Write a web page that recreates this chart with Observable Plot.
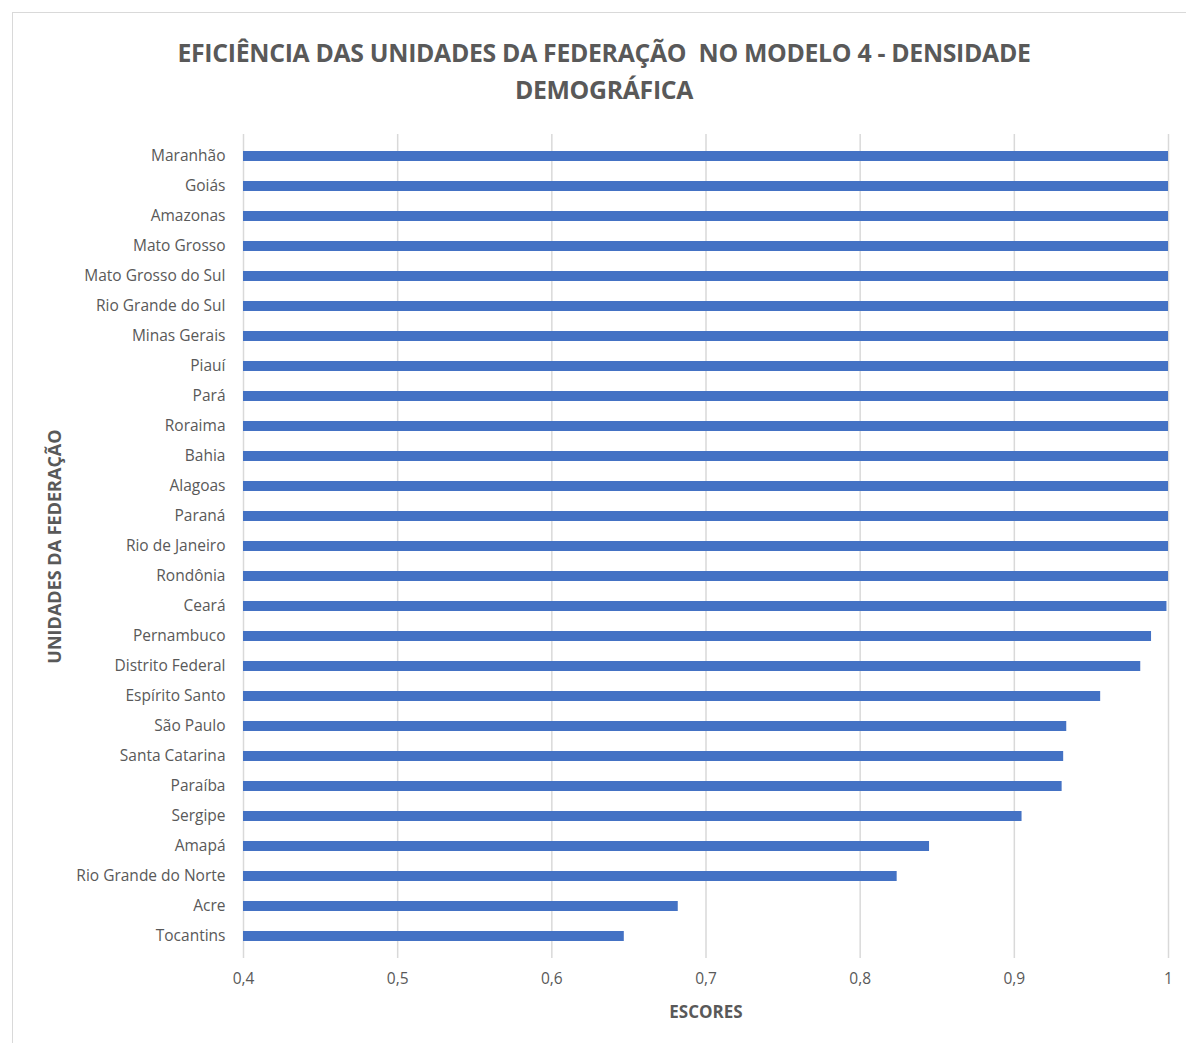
<!DOCTYPE html>
<html>
<head>
<meta charset="utf-8">
<script src="https://cdn.jsdelivr.net/npm/d3@7"></script>
<script src="https://cdn.jsdelivr.net/npm/@observablehq/plot@0.6"></script>
<style>
  body { margin: 0; background: #fff; font-family: "Open Sans", sans-serif; }
  #frame { position: absolute; left: 12px; top: 12px; width: 1180px; height: 1040px; border: 1.5px solid #d9d9d9; border-right: none; border-bottom: none; }
  #wrap { position: absolute; left: 0; top: 0; width: 1186px; }
  #title { height: 125px; box-sizing: border-box; padding-top: 34px; padding-left: 22px; text-align: center; color: #595959; font-weight: bold; font-size: 24.8px; line-height: 37px; letter-spacing: -0.3px; }
  g[aria-label="y-axis label"] text { font-weight: bold; font-size: 18px; }
</style>
</head>
<body>
<div id="frame"></div>
<div id="wrap">
  <div id="title">EFICIÊNCIA DAS UNIDADES DA FEDERAÇÃO&nbsp;&nbsp;NO MODELO 4 - DENSIDADE<br>DEMOGRÁFICA</div>
  <div id="chart"></div>
</div>
<script>
const states = ["Maranhão","Goiás","Amazonas","Mato Grosso","Mato Grosso do Sul","Rio Grande do Sul","Minas Gerais","Piauí","Pará","Roraima","Bahia","Alagoas","Paraná","Rio de Janeiro","Rondônia","Ceará","Pernambuco","Distrito Federal","Espírito Santo","São Paulo","Santa Catarina","Paraíba","Sergipe","Amapá","Rio Grande do Norte","Acre","Tocantins"];
const scores = [1,1,1,1,1,1,1,1,1,1,1,1,1,1,1,0.999,0.989,0.982,0.956,0.934,0.932,0.931,0.905,0.845,0.824,0.682,0.647];
const xTicks = [0.4,0.5,0.6,0.7,0.8,0.9,1];
const xTickLabels = ["0,4","0,5","0,6","0,7","0,8","0,9","1"];
const xTitle = ["ESCORES"];

const data = states.map((s, i) => ({state: s, score: scores[i]}));

const chart = Plot.plot({
  width: 1186,
  height: 918,
  marginLeft: 243,
  marginRight: 18,
  marginTop: 9,
  marginBottom: 85,
  style: {fontFamily: '"Open Sans", sans-serif', fontSize: "15.5px", color: "#595959", background: "transparent"},
  x: {domain: [0.4, 1]},
  y: {domain: states, paddingInner: 0.66, paddingOuter: 0.46},
  marks: [
    Plot.gridX(xTicks, {stroke: "#d9d9d9", strokeOpacity: 1, strokeWidth: 1.5}),
    Plot.barX(data, {x1: 0.4, x2: "score", y: "state", fill: "#4472C4"}),
    Plot.axisX(xTicks, {tickSize: 0, tickPadding: 14, tickFormat: (d) => xTickLabels[xTicks.indexOf(d)], label: null, fill: "#595959"}),
    Plot.text(xTitle, {frameAnchor: "bottom", text: (d) => d, dy: 59, fontWeight: "bold", fontSize: 17, fill: "#595959"}),
    Plot.axisY({tickSize: 0, tickPadding: 18, label: "UNIDADES DA FEDERAÇÃO", labelAnchor: "center", labelOffset: 195, fill: "#595959"})
  ]
});
document.getElementById("chart").appendChild(chart);
</script>
</body>
</html>
